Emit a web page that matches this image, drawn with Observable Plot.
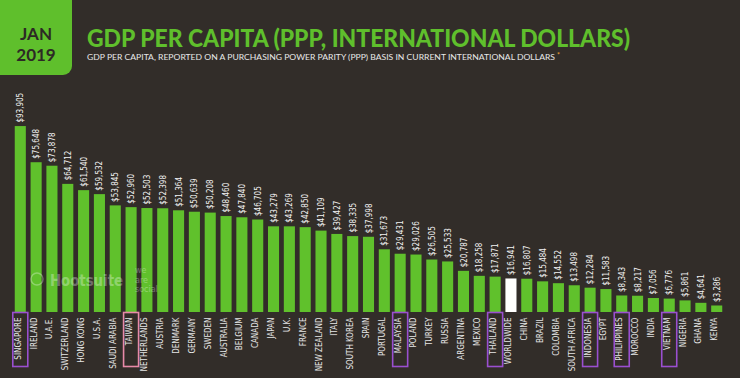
<!DOCTYPE html>
<html><head><meta charset="utf-8">
<script src="https://cdn.jsdelivr.net/npm/d3@7"></script>
<script src="https://cdn.jsdelivr.net/npm/@observablehq/plot@0.6"></script>
<style>
html,body{margin:0;padding:0;background:#322d29;}
#wrap{position:relative;width:740px;height:378px;overflow:hidden;background:#322d29;}
#chart{position:absolute;left:0;top:0;}
#header{position:absolute;left:0;top:0;}
#wm{position:absolute;left:28px;top:264px;pointer-events:none;}
</style></head><body>
<div id="wrap">
<div id="chart"></div>
<svg id="header" width="740" height="80" font-family="Lato, 'DejaVu Sans', sans-serif">
  <rect x="-12" y="-12" width="84" height="87" rx="9" fill="#5fbf2c"></rect>
  <text x="36" y="40" text-anchor="middle" font-size="17" font-weight="bold" fill="#2d2925">JAN</text>
  <text x="36" y="61" text-anchor="middle" font-size="17" font-weight="bold" fill="#2d2925">2019</text>
  <text x="87" y="47" font-size="24" font-weight="900" fill="#5fbf2c" textLength="543" lengthAdjust="spacingAndGlyphs">GDP PER CAPITA (PPP, INTERNATIONAL DOLLARS)</text>
  <text x="87" y="60" font-size="7.5" fill="#e8e8e8" textLength="468" lengthAdjust="spacingAndGlyphs">GDP PER CAPITA, REPORTED ON A PURCHASING POWER PARITY (PPP) BASIS IN CURRENT INTERNATIONAL DOLLARS</text>
  <text x="557" y="58" font-size="7" fill="#f0a030">*</text>
</svg>
<svg id="wm" width="160" height="40" font-family="'DejaVu Sans', sans-serif" opacity="0.3">
  <circle cx="9" cy="15" r="6" fill="none" stroke="#fff" stroke-width="1.5"></circle>
  <text x="22" y="22" font-size="15" font-weight="bold" fill="#fff" textLength="73" lengthAdjust="spacingAndGlyphs">Hootsuite</text>
  <text x="107" y="9" font-size="8" fill="#fff">we</text>
  <text x="107" y="18.5" font-size="8" fill="#fff">are</text>
  <text x="107" y="28" font-size="8" fill="#fff">social</text>
</svg>
</div>
<script>
const countries = ["SINGAPORE","IRELAND","U.A.E.","SWITZERLAND","HONG KONG","U.S.A.","SAUDI ARABIA","TAIWAN","NETHERLANDS","AUSTRIA","DENMARK","GERMANY","SWEDEN","AUSTRALIA","BELGIUM","CANADA","JAPAN","U.K.","FRANCE","NEW ZEALAND","ITALY","SOUTH KOREA","SPAIN","PORTUGAL","MALAYSIA","POLAND","TURKEY","RUSSIA","ARGENTINA","MEXICO","THAILAND","WORLDWIDE","CHINA","BRAZIL","COLOMBIA","SOUTH AFRICA","INDONESIA","EGYPT","PHILIPPINES","MOROCCO","INDIA","VIETNAM","NIGERIA","GHANA","KENYA"];
const values = [93905,75648,73878,64712,61540,59532,53845,52960,52503,52398,51364,50639,50208,48460,47840,46705,43279,43269,42850,41109,39427,38335,37998,31673,29431,29026,26505,25533,20787,18258,17871,16941,16807,15484,14552,13498,12284,11583,8343,8217,7056,6776,5861,4641,3286];
const highlightPurple = ["SINGAPORE","MALAYSIA","THAILAND","INDONESIA","PHILIPPINES","VIETNAM"];
const highlightPink = ["TAIWAN"];
const worldLabel = "WORLDWIDE";

const data = countries.map((c, i) => ({country: c, value: values[i]}));
const fmt = d3.format("$,");
const GREEN = "#60c12c";
const FONT = "'Liberation Sans Narrow', 'DejaVu Sans Condensed', 'Roboto', sans-serif";

const chart = Plot.plot({
  width: 740, height: 378,
  marginTop: 114, marginBottom: 66, marginLeft: 10, marginRight: 13,
  style: {background: "transparent", color: "#fff", fontFamily: FONT},
  x: {domain: countries, padding: 0.3, axis: null},
  y: {domain: [0, 100000], axis: null},
  color: {type: "identity"},
  marks: [
    Plot.barY(data, {x: "country", y: "value", fill: d => d.country === worldLabel ? "#ffffff" : GREEN}),
    Plot.text(data, {x: "country", y: "value", text: d => fmt(d.value), rotate: -90, textAnchor: "start", dy: -4, fill: "#f2f2f2", fontSize: 8}),
    Plot.text(data, {x: "country", text: "country", frameAnchor: "bottom", rotate: -90, textAnchor: "end", dy: 5, fill: "#e6e6e6", fontSize: 8})
  ]
});
document.getElementById("chart").appendChild(chart);

const xs = chart.scale("x"), ys = chart.scale("y");
const svg = d3.select(chart);
const base = ys.apply(0);
const boxes = countries.filter(c => highlightPurple.includes(c) || highlightPink.includes(c));
svg.append("g").selectAll("rect").data(boxes).join("rect")
  .attr("x", c => xs.apply(c) + xs.bandwidth / 2 - 7.5)
  .attr("y", base + 0.5)
  .attr("width", 15)
  .attr("height", 54)
  .attr("fill", "none")
  .attr("stroke-width", 1.6)
  .attr("stroke", c => highlightPink.includes(c) ? "#e88aa8" : "#9a4fd0");
</script>
</body></html>
